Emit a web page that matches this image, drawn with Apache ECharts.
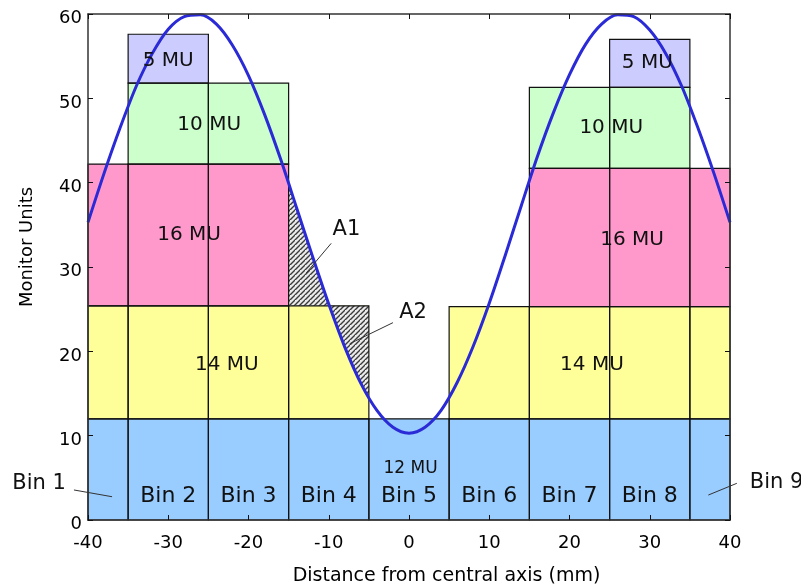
<!DOCTYPE html>
<html><head><meta charset="utf-8">
<script src="https://cdn.jsdelivr.net/npm/echarts@6/dist/echarts.min.js"></script>
<style>html,body{margin:0;padding:0;background:#fff}#c{width:801px;height:587px}</style>
</head><body><div id="c"></div>
<script>
// ---------- data ----------
const binNames = ['Bin 1','Bin 2','Bin 3','Bin 4','Bin 5','Bin 6','Bin 7','Bin 8','Bin 9'];
const binLeft  = [-40,-35,-25,-15,-5, 5,15,25,35];
const binRight = [-35,-25,-15, -5, 5,15,25,35,40];
// top of each stacked dose segment per bin (null = segment absent)
const seg12Top = [12,12,12,12,12,12,12,12,12];
const seg14Top = [25.4,25.4,25.4,25.4,null,25.3,25.3,25.3,25.3];
const seg16Top = [42.2,42.2,42.2,null,null,null,41.7,41.7,41.7];
const seg10Top = [null,51.8,51.8,null,null,null,51.3,51.3,null];
const seg5Top  = [null,57.6,null,null,null,null,null,57.0,null];
// fluence profile (blue curve)
const curveX = [-40,-38,-36,-34,-32,-30,-28,-26,-24,-22,-20,-18,-16,-14,-12,-10,-8,-6,-4,-2,0,
                 2,4,6,8,10,12,14,16,18,20,22,24,26,28,30,32,34,36,38,40];
const curveY = [35.3,41.1,46.5,51.4,55.3,58.2,59.7,59.9,58.8,56.3,52.7,48.1,42.8,37.0,31.2,25.6,20.5,16.2,13.0,11.0,10.3,
                 11.0,13.0,16.3,20.6,25.7,31.4,37.3,43.1,48.3,52.8,56.4,58.8,59.9,59.7,58.1,55.3,51.4,46.5,41.1,35.3];
// segment labels
const muText = ['5 MU','10 MU','16 MU','14 MU','14 MU','16 MU','10 MU','5 MU'];
const muX    = [-30.0,-24.9,-27.4,-22.7,22.8,27.8,25.2,29.7];
const muY    = [54.5,46.9,33.8,18.4,18.4,33.2,46.5,54.2];
const mu12Text = ['12 MU']; const mu12X = [0.2]; const mu12Y = [6.05];
// bin labels inside (bins 2..8) and outside (bin 1, bin 9)
const binLabelY = 2.85;
const outerBinText = ['Bin 1','Bin 9'];
const outerBinX = [-46.1,45.8];
const outerBinY = [4.35,4.4];
const outerLeaderFrom = [[-41.75,3.56],[40.85,4.35]];
const outerLeaderTo   = [[-37.0,2.76],[37.3,2.96]];
// area annotations
const areaText = ['A1','A2'];
const areaX = [-7.8,0.5];
const areaY = [34.4,24.6];
const areaLeaderFrom = [[-9.7,32.8],[-2.0,23.4]];
const areaLeaderTo   = [[-12.8,29.3],[-7.4,20.9]];
const hatchBin = 3; // Bin 4

// ---------- styles ----------
const segColors = ['#99ccff','#ffff99','#ff99cc','#ccffcc','#ccccff'];
const FONT = 'DejaVu Sans';

// ---------- build ----------
const segTops = [seg12Top, seg14Top, seg16Top, seg10Top, seg5Top];
const cells = [];
for (let i = 0; i < binLeft.length; i++) {
  let bottom = 0;
  for (let L = 0; L < segTops.length; L++) {
    const t = segTops[L][i];
    if (t == null) continue;
    cells.push([binLeft[i], binRight[i], bottom, t, L]);
    bottom = t;
  }
}
function curveAt(x) {
  for (let i = 0; i < curveX.length - 1; i++) {
    if (x >= curveX[i] && x <= curveX[i+1]) {
      const f = (x - curveX[i]) / (curveX[i+1] - curveX[i]);
      return curveY[i] + f * (curveY[i+1] - curveY[i]);
    }
  }
  return curveY[curveY.length-1];
}
// hatch polygons within bin 4 between the curve and the top of the 14 MU segment
const hx0 = binLeft[hatchBin], hx1 = binRight[hatchBin], T = seg14Top[hatchBin];
let xs = [];
for (let x = hx0; x <= hx1 + 1e-9; x += 0.25) xs.push(+x.toFixed(4));
const xs2 = [];
for (let k = 0; k < xs.length; k++) {
  if (k > 0) {
    const a = curveAt(xs[k-1]) - T, b = curveAt(xs[k]) - T;
    if (a * b < 0) xs2.push(xs[k-1] + (xs[k]-xs[k-1]) * a / (a - b));
  }
  xs2.push(xs[k]);
}
xs = xs2;
const polyA1 = xs.map(x => [x, Math.max(curveAt(x), T)]).concat(xs.slice().reverse().map(x => [x, T]));
const polyA2 = xs.map(x => [x, T]).concat(xs.slice().reverse().map(x => [x, Math.min(curveAt(x), T)]));

const pc = document.createElement('canvas');
pc.width = 5; pc.height = 5;
const ctx = pc.getContext('2d');
ctx.fillStyle = '#eaeaea'; ctx.fillRect(0,0,5,5);
ctx.strokeStyle = '#3a3a3a'; ctx.lineWidth = 1.4;
ctx.beginPath();
ctx.moveTo(-1,6); ctx.lineTo(6,-1);
ctx.moveTo(-3.5,2.5); ctx.lineTo(2.5,-3.5);
ctx.moveTo(2.5,7.5); ctx.lineTo(7.5,2.5);
ctx.stroke();

function textSeries(texts, xv, yv, size, z) {
  return {
    type: 'custom', clip: false, z: z, silent: true,
    data: texts.map((t, i) => [xv[i], yv[i], i]),
    encode: {x: 0, y: 1},
    renderItem: (params, api) => {
      const p = api.coord([api.value(0), api.value(1)]);
      return {type: 'text', x: p[0], y: p[1],
        style: {text: texts[api.value(2)], fontSize: size, fontFamily: FONT, fill: '#111',
                align: 'center', verticalAlign: 'middle'}};
    }
  };
}
function leaderSeries(from, to) {
  return {
    type: 'custom', clip: false, z: 6, silent: true,
    data: from.map((f, i) => [f[0], f[1], to[i][0], to[i][1]]),
    encode: {x: [0, 2], y: [1, 3]},
    renderItem: (params, api) => {
      const a = api.coord([api.value(0), api.value(1)]);
      const b = api.coord([api.value(2), api.value(3)]);
      return {type: 'line', shape: {x1: a[0], y1: a[1], x2: b[0], y2: b[1]},
              style: {stroke: '#333', lineWidth: 1}};
    }
  };
}
function cellSeries(fillOnly, z) {
  return {
    type: 'custom', z: z, silent: true, clip: false,
    data: cells,
    encode: {x: [0, 1], y: [2, 3]},
    renderItem: (params, api) => {
      const p0 = api.coord([api.value(0), api.value(3)]);
      const p1 = api.coord([api.value(1), api.value(2)]);
      const shape = {x: p0[0], y: p0[1], width: p1[0]-p0[0], height: p1[1]-p0[1]};
      return {type: 'rect', shape: shape,
        style: fillOnly ? {fill: segColors[api.value(4)]} : {fill: 'none', stroke: '#111', lineWidth: 1.2}};
    }
  };
}
function polySeries(poly, z) {
  return {
    type: 'custom', z: z, silent: true,
    data: [[0]],
    renderItem: (params, api) => ({
      type: 'polygon',
      shape: {points: poly.map(p => api.coord(p))},
      style: {fill: {image: pc, repeat: 'repeat'}}
    })
  };
}

const axisLineStyle = {color: '#333', width: 1.5};
const chart = echarts.init(document.getElementById('c'), null, {renderer: 'canvas'});
chart.setOption({
  animation: false,
  backgroundColor: '#fff',
  grid: {left: 88, right: 71, top: 14, bottom: 67, containLabel: false, outerBoundsMode: 'none'},
  xAxis: [
    {type: 'value', min: -40, max: 40, interval: 10, position: 'bottom', z: 10,
     axisLine: {show: true, onZero: false, lineStyle: axisLineStyle},
     axisTick: {show: true, inside: true, length: 5, lineStyle: {color: '#111'}},
     axisLabel: {fontSize: 18, color: '#000', fontFamily: FONT, margin: 14},
     splitLine: {show: false},
     name: 'Distance from central axis (mm)', nameLocation: 'middle', nameGap: 47,
     nameTextStyle: {fontSize: 19, color: '#000', fontFamily: FONT, padding: [0, 0, 0, 75]}},
    {type: 'value', min: -40, max: 40, interval: 10, position: 'top', z: 10,
     axisLine: {show: true, onZero: false, lineStyle: axisLineStyle},
     axisTick: {show: true, inside: true, length: 5, lineStyle: {color: '#111'}},
     axisLabel: {show: false}, splitLine: {show: false}}
  ],
  yAxis: [
    {type: 'value', min: 0, max: 60, interval: 10, position: 'left', z: 10,
     axisLine: {show: true, onZero: false, lineStyle: axisLineStyle},
     axisTick: {show: true, inside: true, length: 5, lineStyle: {color: '#111'}},
     axisLabel: {color: '#000', margin: 6, formatter: '{v|{value}}',
       rich: {v: {fontSize: 18, color: '#000', fontFamily: FONT, padding: [9, 0, 0, 0]}}},
     splitLine: {show: false},
     name: 'Monitor Units', nameLocation: 'middle', nameGap: 52,
     nameTextStyle: {fontSize: 18, color: '#000', fontFamily: FONT, padding: [0, 0, 0, 40]}},
    {type: 'value', min: 0, max: 60, interval: 10, position: 'right', z: 10,
     axisLine: {show: true, onZero: false, lineStyle: axisLineStyle},
     axisTick: {show: true, inside: true, length: 5, lineStyle: {color: '#111'}},
     axisLabel: {show: false}, splitLine: {show: false}}
  ],
  series: [
    cellSeries(true, 1),
    polySeries(polyA1, 2),
    polySeries(polyA2, 2),
    cellSeries(false, 3),
    {type: 'line', z: 4, data: curveX.map((x, i) => [x, curveY[i]]), showSymbol: false, smooth: 0.3,
     lineStyle: {color: '#2a2ad6', width: 3}, silent: true},
    textSeries(muText, muX, muY, 20, 6),
    textSeries(mu12Text, mu12X, mu12Y, 17, 6),
    textSeries(binNames.slice(1, 8), binLeft.slice(1, 8).map((l, i) => (l + binRight[i+1]) / 2),
               binNames.slice(1, 8).map(() => binLabelY), 22, 6),
    textSeries(outerBinText, outerBinX, outerBinY, 21, 6),
    leaderSeries(outerLeaderFrom, outerLeaderTo),
    textSeries(areaText, areaX, areaY, 21, 6),
    leaderSeries(areaLeaderFrom, areaLeaderTo)
  ]
});
</script></body></html>
